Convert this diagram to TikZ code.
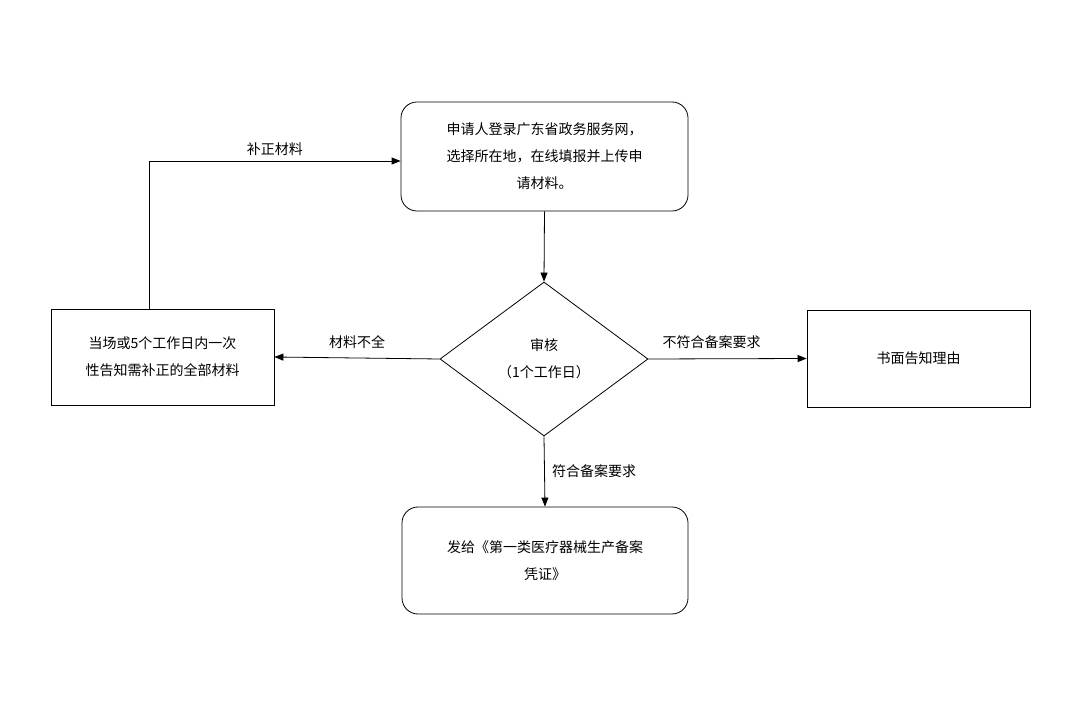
\documentclass[tikz,border=0pt]{standalone}
\usepackage{fontspec}
\setmainfont{Noto Sans CJK SC}
\usetikzlibrary{shapes.geometric,arrows.meta}
\begin{document}
\begin{tikzpicture}[x=1pt,y=-1pt,
  font=\fontsize{14}{27}\selectfont,
  box/.style={draw,line width=0.8pt,align=center,inner sep=0pt},
  arr/.style={draw,line width=0.8pt,-{Triangle[length=9pt,width=7pt]}},
  lab/.style={font=\fontsize{14}{16}\selectfont}]
\useasboundingbox (0,0) rectangle (1080,708);
\node[box,rounded corners=16pt,minimum width=287pt,minimum height=109pt] (top) at (544.5,156.5) {申请人登录广东省政务服务网，\\选择所在地，在线填报并上传申\\请材料。};
\node[box,diamond,aspect=1.35,minimum width=208pt,minimum height=154pt] (dia) at (544,359) {审核\\（1个工作日）};
\node[box,minimum width=223pt,minimum height=96pt] (left) at (162.5,357) {当场或5个工作日内一次\\性告知需补正的全部材料};
\node[box,minimum width=223pt,minimum height=97pt] (right) at (918.5,358.5) {书面告知理由};
\node[box,rounded corners=16pt,minimum width=286pt,minimum height=107pt] (bot) at (545,560.5) {发给《第一类医疗器械生产备案\\凭证》};
\coordinate (c1) at (149,161);
\path[arr] (top.south) -- (dia.north);
\path[arr] (dia.west) -- (left.east) node[lab,midway,above=6pt] (l1) {材料不全};
\path[arr] (dia.east) -- (right.west) node[lab,pos=0.4,above=6pt] (l2) {不符合备案要求};
\path[arr] (dia.south) -- (bot.north) node[lab,midway,right=4pt] (l3) {符合备案要求};
\path[arr] (left.north -| c1) -- (c1) -- (c1 -| top.west) node[lab,pos=0.5,above=2pt] (l4) {补正材料};
\end{tikzpicture}
\end{document}
